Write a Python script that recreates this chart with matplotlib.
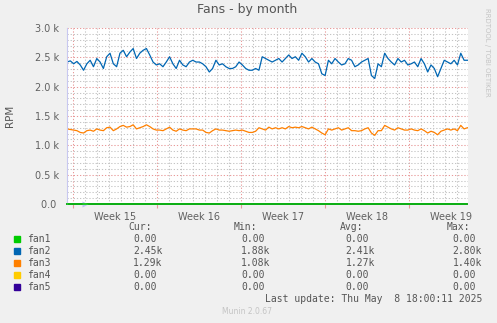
import numpy as np
import matplotlib.pyplot as plt
from matplotlib.patches import Rectangle
from matplotlib.ticker import MultipleLocator, FixedLocator, NullFormatter

# fan speeds, thousands of RPM, one sample every ~6.6 h
fan2 = [2.42, 2.44, 2.39, 2.43, 2.37, 2.28, 2.39, 2.45, 2.34, 2.48, 2.42, 2.31,
        2.51, 2.57, 2.39, 2.34, 2.57, 2.62, 2.51, 2.59, 2.65, 2.48, 2.57, 2.62,
        2.65, 2.54, 2.42, 2.37, 2.39, 2.34, 2.42, 2.51, 2.39, 2.31, 2.45, 2.37,
        2.34, 2.42, 2.45, 2.42, 2.42, 2.39, 2.34, 2.25, 2.31, 2.45, 2.37, 2.39,
        2.34, 2.31, 2.31, 2.34, 2.42, 2.37, 2.31, 2.28,
        2.28, 2.31, 2.28, 2.51, 2.48, 2.45, 2.42, 2.45, 2.48, 2.42, 2.48, 2.54,
        2.48, 2.51, 2.45, 2.57, 2.51, 2.42, 2.48, 2.42, 2.39, 2.22, 2.19, 2.45,
        2.39, 2.48, 2.42, 2.37, 2.39, 2.48, 2.45, 2.34, 2.37, 2.42, 2.45, 2.48,
        2.19, 2.14, 2.39, 2.34, 2.57, 2.48, 2.42, 2.37, 2.48, 2.42, 2.45, 2.37,
        2.39, 2.42, 2.34, 2.48, 2.39, 2.25, 2.37, 2.31, 2.17, 2.31, 2.45, 2.42,
        2.39, 2.45, 2.37, 2.57, 2.45, 2.45]
fan3 = [1.28, 1.27, 1.26, 1.25, 1.22, 1.21, 1.25, 1.26, 1.24, 1.28, 1.26, 1.25,
        1.30, 1.31, 1.25, 1.28, 1.32, 1.34, 1.31, 1.32, 1.35, 1.28, 1.30, 1.32,
        1.35, 1.32, 1.28, 1.26, 1.26, 1.25, 1.28, 1.31, 1.26, 1.24, 1.28, 1.26,
        1.25, 1.28, 1.28, 1.28, 1.26, 1.26, 1.22, 1.21, 1.25, 1.28, 1.26, 1.26,
        1.25, 1.24, 1.25, 1.26, 1.25, 1.26, 1.24, 1.22,
        1.22, 1.24, 1.30, 1.28, 1.26, 1.31, 1.28, 1.30, 1.28, 1.30, 1.28, 1.32,
        1.30, 1.31, 1.30, 1.32, 1.30, 1.28, 1.31, 1.28, 1.25, 1.21, 1.18, 1.28,
        1.26, 1.28, 1.30, 1.26, 1.28, 1.30, 1.25, 1.25, 1.24, 1.25, 1.28, 1.30,
        1.21, 1.17, 1.25, 1.25, 1.34, 1.31, 1.28, 1.26, 1.30, 1.28, 1.26, 1.26,
        1.28, 1.26, 1.25, 1.28, 1.25, 1.21, 1.24, 1.22, 1.18, 1.24, 1.26, 1.28,
        1.26, 1.28, 1.25, 1.34, 1.28, 1.30]
fan1 = [0.0] * len(fan2)
fan4 = [0.0] * len(fan2)
fan5 = [0.0] * len(fan2)

names = ["fan1", "fan2", "fan3", "fan4", "fan5"]
colors = ["#00cc00", "#0066b3", "#ff8000", "#ffcc00", "#330099"]
cur = ["0.00", "2.45k", "1.29k", "0.00", "0.00"]
vmin = ["0.00", "1.88k", "1.08k", "0.00", "0.00"]
vavg = ["0.00", "2.41k", "1.27k", "0.00", "0.00"]
vmax = ["0.00", "2.80k", "1.40k", "0.00", "0.00"]
weeks = ["Week 15", "Week 16", "Week 17", "Week 18", "Week 19"]
yticks = [0, 500, 1000, 1500, 2000, 2500, 3000]
ylabels = ["0.0 ", "0.5 k", "1.0 k", "1.5 k", "2.0 k", "2.5 k", "3.0 k"]

# time axis in days since the Monday that starts week 15
t0, t1 = -0.475, 32.95
t = np.linspace(t0, t1 - 0.05, len(fan2))

W, H = 497, 323
fig = plt.figure(figsize=(W / 100, H / 100), dpi=100, facecolor="#f0f0f0")
ax = fig.add_axes([67 / W, 1 - 204 / H, 401 / W, 176 / H])
ax.set_facecolor("white")

ax.set_xlim(t0, t1)
ax.set_ylim(0, 3000)

# grid: weeks / 500 rpm in red, days / 100 rpm in grey
ax.xaxis.set_major_locator(MultipleLocator(7))
ax.xaxis.set_minor_locator(MultipleLocator(1))
ax.xaxis.set_major_formatter(NullFormatter())
ax.yaxis.set_major_locator(FixedLocator(yticks))
ax.yaxis.set_minor_locator(MultipleLocator(100))
ax.set_yticklabels(ylabels)
ax.grid(which="minor", color="#c4c4c4", lw=0.75, ls=(0, (1.2, 1.8)))
ax.grid(which="major", color="#e89a9a", lw=0.75, ls=(0, (1.2, 1.8)))
ax.set_axisbelow(True)
ax.tick_params(which="both", length=0, colors="#606060", labelsize=7)
ax.tick_params(axis="y", pad=5.5)
ax.tick_params(axis="x", which="major", length=3, color="#e89a9a", direction="out")

for i, w in enumerate(weeks):
    ax.text(7 * i + 3.5, -0.045, w, transform=ax.get_xaxis_transform(),
            ha="center", va="top", fontsize=7, color="#606060")

for s in ["top", "right", "bottom"]:
    ax.spines[s].set_visible(False)
ax.spines["left"].set_color("#c8c8f0")

ax.plot(t, [v * 1000 for v in fan2], color=colors[1], lw=0.9)
ax.plot(t, [v * 1000 for v in fan3], color=colors[2], lw=0.9)
ax.plot(t, fan4, color=colors[3], lw=1.2, clip_on=False)
ax.plot(t, fan5, color=colors[4], lw=1.2, clip_on=False)
ax.plot(t, fan1, color=colors[0], lw=1.2, clip_on=False, zorder=3)

# axis arrows
ax.plot([t0], [1.0], marker="^", ms=5, color="#c0c0f4", mec="none",
        transform=ax.get_yaxis_transform(), clip_on=False)
ax.plot([1.005], [0], marker=">", ms=5, color="#c0c0f4", mec="none",
        transform=ax.get_xaxis_transform(), clip_on=False)

fig.text(247.5 / W, 1 - 9 / H, "Fans - by month", ha="center", va="center",
         fontsize=9, color="#555555")
fig.text(10 / W, 1 - 116 / H, "RPM", rotation=90, ha="center", va="center",
         fontsize=7.5, color="#555555")
fig.text(487 / W, 1 - 52 / H, "RRDTOOL / TOBI OETIKER", rotation=270,
         ha="center", va="center", fontsize=5, color="#c4c4c4")

# legend table
mono = dict(family="DejaVu Sans Mono", fontsize=7, color="#555555", va="center")
row0 = 227
for x, h in [(128, "Cur:"), (234, "Min:"), (340, "Avg:"), (447, "Max:")]:
    fig.text(x / W, 1 - row0 / H, h, **mono)
for i, n in enumerate(names):
    y = row0 + 12 * (i + 1)
    fig.patches.append(Rectangle((14 / W, 1 - (y + 3) / H), 6 / W, 6 / H,
                                 transform=fig.transFigure, color=colors[i]))
    fig.text(27 / W, 1 - y / H, n, **mono)
    fig.text(133 / W, 1 - y / H, cur[i], **mono)
    fig.text(241 / W, 1 - y / H, vmin[i], **mono)
    fig.text(345.5 / W, 1 - y / H, vavg[i], **mono)
    fig.text(452.5 / W, 1 - y / H, vmax[i], **mono)
fig.text(482 / W, 1 - 299 / H, "Last update: Thu May  8 18:00:11 2025",
         ha="right", **mono)
fig.text(247.5 / W, 1 - 312 / H, "Munin 2.0.67", ha="center", va="center",
         fontsize=5.5, color="#c4c4c4")

fig.savefig("out.png", dpi=100, facecolor=fig.get_facecolor())
